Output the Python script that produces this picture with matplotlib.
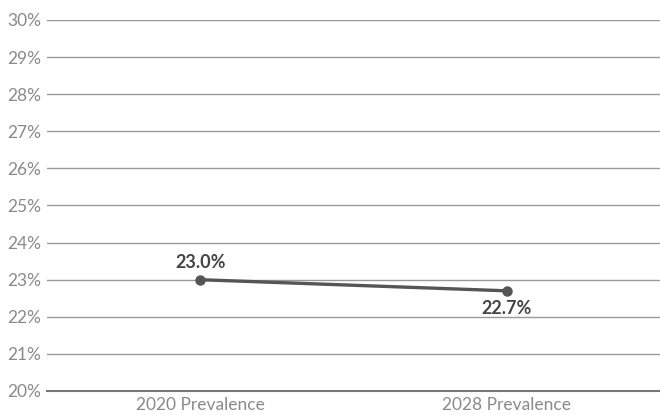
import matplotlib.pyplot as plt

categories = ["2020 Prevalence", "2028 Prevalence"]
values = [23.0, 22.7]
value_labels = ["23.0%", "22.7%"]
y_ticks = list(range(20, 31))

plt.rcParams['font.family'] = ['Lato', 'DejaVu Sans']

fig = plt.figure(figsize=(6.6, 4.15), dpi=100)
ax = fig.add_axes([47 / 660, 1 - 391 / 415, 1 - 47 / 660, 371 / 415])

x = list(range(len(categories)))
ax.plot(x, values, color='#555555', linewidth=2.4, marker='o', markersize=6.5, zorder=3)

# label above the first point, below the second
offsets = [12.5, -12.5]
for xi, v, lab, off in zip(x, values, value_labels, offsets):
    ax.annotate(lab, (xi, v), xytext=(0, off), textcoords='offset points',
                ha='center', va='center', fontsize=13, fontweight='bold', color='#444444')

ax.set_xlim(-0.5, 1.5)
ax.set_ylim(20, 30)
ax.set_yticks(y_ticks)
ax.set_yticklabels([f"{t}%" for t in y_ticks])
ax.set_xticks(x)
ax.set_xticklabels(categories)

ax.grid(axis='y', color='#999999', linewidth=1)
ax.set_axisbelow(True)
for s in ['top', 'right', 'left']:
    ax.spines[s].set_visible(False)
ax.spines['bottom'].set_color('#777777')
ax.spines['bottom'].set_linewidth(1.5)
ax.tick_params(axis='both', length=0, labelsize=12.5, labelcolor='#8a8a8a')
ax.tick_params(axis='y', pad=4)
ax.tick_params(axis='x', pad=4)

fig.savefig('out.png', dpi=100)
